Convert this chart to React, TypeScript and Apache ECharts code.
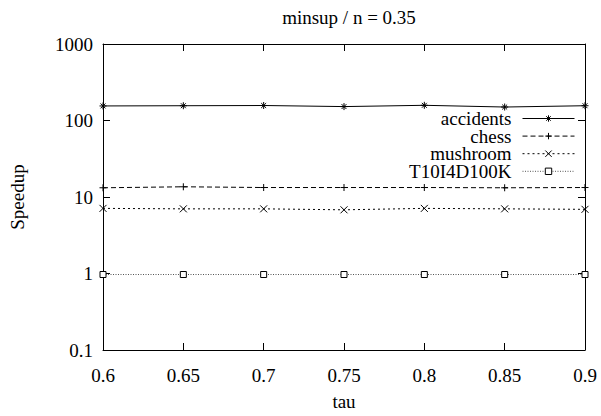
import React, { useEffect, useRef } from "react";
import * as echarts from "echarts";

const taus = [0.6, 0.65, 0.7, 0.75, 0.8, 0.85, 0.9];
const accidents = [155, 156, 157, 152, 158, 150, 156];
const chess = [13.2, 13.6, 13.3, 13.3, 13.3, 13.2, 13.3];
const mushroom = [7.1, 7.0, 7.0, 6.8, 7.1, 7.0, 6.9];
const t10 = [0.97, 0.97, 0.97, 0.97, 0.97, 0.97, 0.97];

const FONT = "Liberation Serif";
const FS = 19;
const STAR = "path://M0 5 L10 5 M5 0 L5 10 M1.5 1.5 L8.5 8.5 M8.5 1.5 L1.5 8.5";
const PLUS = "path://M0 5 L10 5 M5 0 L5 10";
const CROSS = "path://M1 1 L9 9 M9 1 L1 9";

export default function App() {
  const ref = useRef<HTMLDivElement>(null);
  useEffect(() => {
    const el = ref.current!;
    const chart = echarts.init(el, null, { renderer: "svg" });
    const mk = (name: string, data: number[], symbol: string, dash: any, lineColor = "#000", fill = "#000", size = 7) => ({
      name,
      type: "line",
      data: taus.map((t, i) => [t, data[i]]),
      symbol,
      symbolSize: size,
      showSymbol: true,
      lineStyle: { color: lineColor, width: 1, type: dash },
      itemStyle: { color: fill, borderColor: "#000", borderWidth: 1 },
      z: 3,
    });
    chart.setOption({
      animation: false,
      title: {
        text: "minsup / n = 0.35",
        left: 344,
        textAlign: "center",
        top: 3,
        textStyle: { fontFamily: FONT, fontSize: FS, fontWeight: "normal", color: "#000" },
      },
      grid: { left: 103, right: 16, top: 44, bottom: 57 },
      legend: {
        orient: "vertical",
        right: 26,
        top: 109,
        padding: 0,
        align: "right",
        itemWidth: 52,
        itemHeight: 8,
        itemGap: -1.4,
        lineStyle: { width: 1 },
        itemStyle: { borderWidth: 1 },
        textStyle: { fontFamily: FONT, fontSize: FS, color: "#000", padding: [0, 6, 0, 0] },
        data: ["accidents", "chess", "mushroom", "T10I4D100K"],
      },
      xAxis: [
        {
          type: "value",
          min: 0.6,
          max: 0.9,
          interval: 0.05,
          name: "tau",
          nameLocation: "middle",
          nameGap: 42,
          nameTextStyle: { fontFamily: FONT, fontSize: FS, color: "#000" },
          axisLine: { lineStyle: { color: "#000", width: 1 } },
          axisTick: { inside: true, length: 7, lineStyle: { color: "#000" } },
          axisLabel: {
            fontFamily: FONT, fontSize: FS, color: "#000", margin: 16,
            formatter: (v: number) => String(parseFloat(v.toFixed(2))),
          },
          splitLine: { show: false },
        },
        {
          type: "value",
          position: "top",
          min: 0.6,
          max: 0.9,
          interval: 0.05,
          axisLine: { lineStyle: { color: "#000", width: 1 } },
          axisTick: { inside: true, length: 7, lineStyle: { color: "#000" } },
          axisLabel: { show: false },
          splitLine: { show: false },
        },
      ],
      yAxis: [
        {
          type: "log",
          logBase: 10,
          min: 0.1,
          max: 1000,
          name: "Speedup",
          nameLocation: "middle",
          nameRotate: 90,
          nameGap: 76,
          nameTextStyle: { fontFamily: FONT, fontSize: FS, color: "#000" },
          axisLine: { show: true, lineStyle: { color: "#000", width: 1 } },
          axisTick: { show: true, inside: true, length: 7, lineStyle: { color: "#000" } },
          axisLabel: {
            fontFamily: FONT, fontSize: FS, color: "#000", margin: 10,
            formatter: (v: number) => String(parseFloat(v.toPrecision(3))),
          },
          splitLine: { show: false },
        },
        {
          type: "log",
          logBase: 10,
          min: 0.1,
          max: 1000,
          position: "right",
          axisLine: { show: true, lineStyle: { color: "#000", width: 1 } },
          axisTick: { show: true, inside: true, length: 7, lineStyle: { color: "#000" } },
          axisLabel: { show: false },
          splitLine: { show: false },
        },
      ],
      series: [
        mk("accidents", accidents, STAR, "solid"),
        mk("chess", chess, PLUS, [5, 3]),
        mk("mushroom", mushroom, CROSS, [2, 3]),
        mk("T10I4D100K", t10, "rect", [1, 1.5], "#555", "#fff", 6),
      ],
    });
    return () => chart.dispose();
  }, []);
  return <div ref={ref} style={{ position: "absolute", left: 0, top: 0, width: 601, height: 416 }} />;
}
